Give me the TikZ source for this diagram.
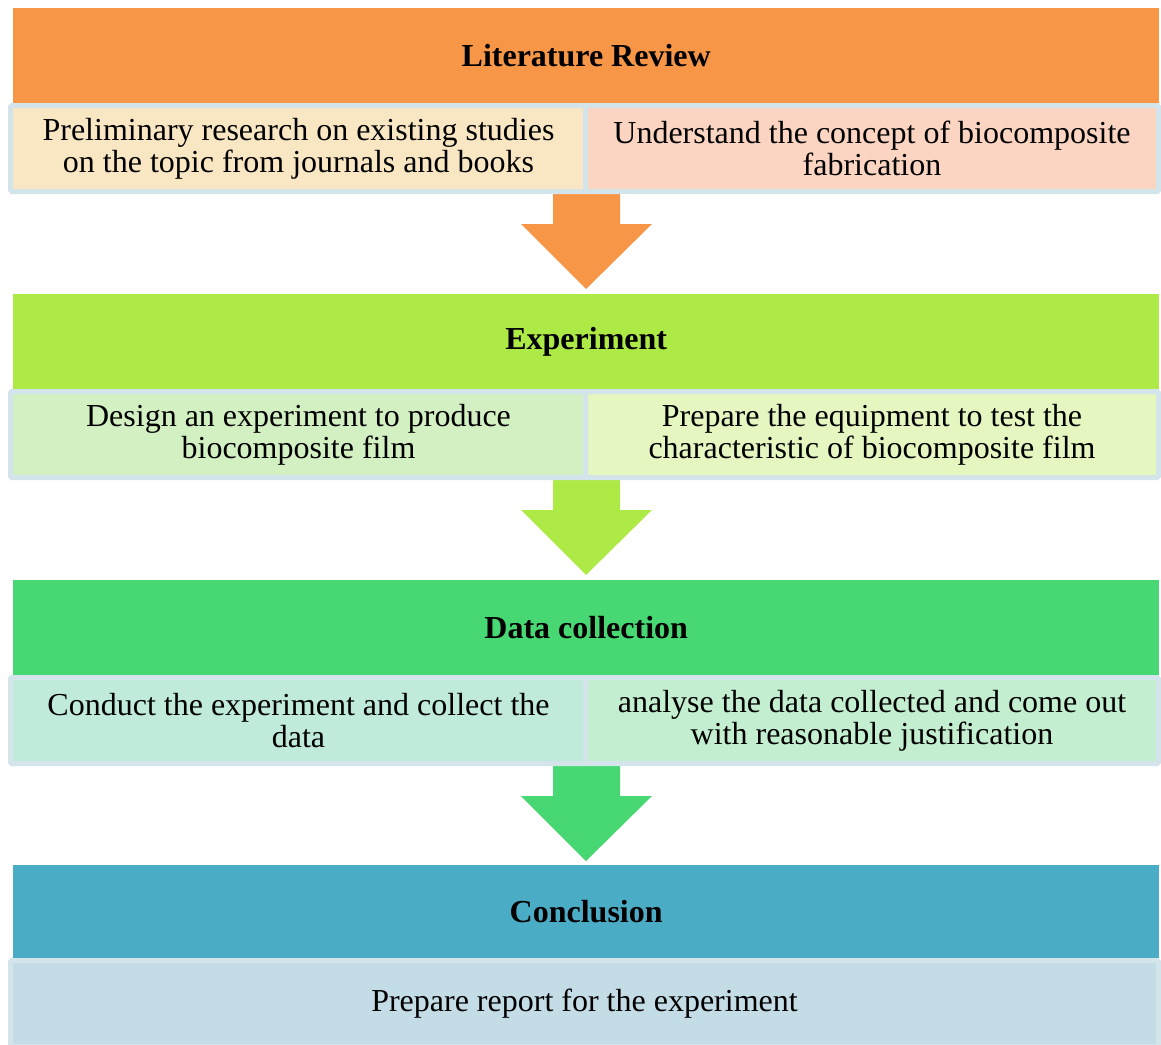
\documentclass[tikz,border=0pt]{standalone}
\usepackage{fontspec}
\setmainfont{Liberation Serif}
\usetikzlibrary{calc}

\definecolor{hdrA}{HTML}{F79646}
\definecolor{hdrB}{HTML}{AEEA46}
\definecolor{hdrC}{HTML}{48D873}
\definecolor{hdrD}{HTML}{4BACC6}
\definecolor{subAL}{HTML}{F9E6C3}
\definecolor{subAR}{HTML}{FBD5C2}
\definecolor{subBL}{HTML}{D3F0C3}
\definecolor{subBR}{HTML}{E5F6C1}
\definecolor{subCL}{HTML}{C0EBDB}
\definecolor{subCR}{HTML}{C3EECF}
\definecolor{subD}{HTML}{C4DCE6}
\definecolor{edge}{HTML}{D3E4EB}

\tikzset{
  header/.style={anchor=north west, minimum width=1146pt, minimum height=95pt,
    inner sep=0pt, font=\fontsize{32}{32}\selectfont\bfseries},
  subbox/.style={draw=edge, line width=5pt, rounded corners=1.5pt, minimum height=86pt,
    inner sep=0pt, align=center, font=\fontsize{32}{32}\selectfont},
  flowarrow/.style={draw=none}
}

\begin{document}
\begin{tikzpicture}[x=1pt, y=-1pt]
  \useasboundingbox (0,0) rectangle (1161,1044);

  % block arrows between stages (drawn first so boxes sit on top)
  \foreach \row/\col in {0/hdrA, 286/hdrB, 572/hdrC}{
    \fill[\col] (553,190+\row) -- (620,190+\row) -- (620,224+\row) -- (652,224+\row)
      -- (586,289+\row) -- (521,224+\row) -- (553,224+\row) -- cycle;
  }

  % Stage 1
  \node[header, fill=hdrA] (h1) at (13,8) {Literature Review};
  \node[subbox, fill=subAL, minimum width=576pt] (s1l) at (298.5,148.5)
    {Preliminary research on existing studies\\on the topic from journals and books};
  \node[subbox, fill=subAR, minimum width=573pt] (s1r) at (872,148.5)
    {Understand the concept of biocomposite\\fabrication};

  % Stage 2
  \node[header, fill=hdrB] (h2) at (13,294) {Experiment};
  \node[subbox, fill=subBL, minimum width=576pt] (s2l) at (298.5,434.5)
    {Design an experiment to produce\\biocomposite film};
  \node[subbox, fill=subBR, minimum width=573pt] (s2r) at (872,434.5)
    {Prepare the equipment to test the\\characteristic of biocomposite film};

  % Stage 3
  \node[header, fill=hdrC] (h3) at (13,580) {Data collection};
  \node[subbox, fill=subCL, minimum width=576pt] (s3l) at (298.5,720.5)
    {Conduct the experiment and collect the\\data};
  \node[subbox, fill=subCR, minimum width=573pt] (s3r) at (872,720.5)
    {analyse the data collected and come out\\with reasonable justification};

  % Stage 4
  \node[header, fill=hdrD, minimum height=93pt] (h4) at (13,865) {Conclusion};
  \node[subbox, fill=subD, minimum width=1148pt] (s4) at (584.5,1003.5)
    {Prepare report for the experiment};
\end{tikzpicture}
\end{document}
